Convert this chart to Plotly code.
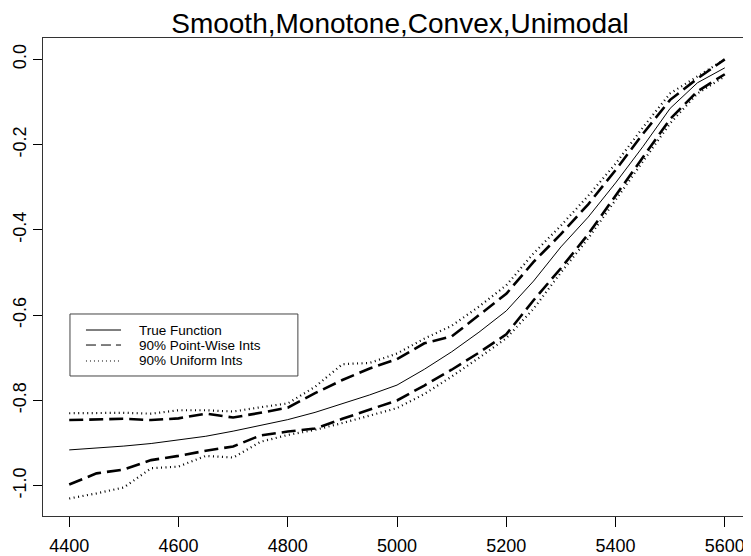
import plotly.graph_objects as go

x = [4400, 4450, 4500, 4550, 4600, 4650, 4700, 4750, 4800, 4850, 4900, 4950, 5000,
     5050, 5100, 5150, 5200, 5250, 5300, 5350, 5400, 5450, 5500, 5550, 5600]

true_fn = [-0.916, -0.912, -0.907, -0.901, -0.893, -0.884, -0.872, -0.859, -0.845,
           -0.828, -0.807, -0.787, -0.764, -0.727, -0.686, -0.640, -0.590, -0.520,
           -0.440, -0.370, -0.290, -0.205, -0.115, -0.055, -0.020]

pw_upper = [-0.846, -0.845, -0.843, -0.846, -0.842, -0.831, -0.840, -0.829, -0.817,
            -0.783, -0.752, -0.725, -0.703, -0.666, -0.650, -0.600, -0.550, -0.475,
            -0.410, -0.340, -0.260, -0.175, -0.095, -0.045, 0.000]

pw_lower = [-0.997, -0.971, -0.962, -0.940, -0.930, -0.918, -0.908, -0.882, -0.873,
            -0.866, -0.843, -0.822, -0.800, -0.765, -0.728, -0.688, -0.645, -0.565,
            -0.490, -0.410, -0.320, -0.230, -0.140, -0.075, -0.035]

uni_upper = [-0.830, -0.830, -0.829, -0.831, -0.823, -0.823, -0.826, -0.816, -0.807,
             -0.768, -0.715, -0.712, -0.690, -0.655, -0.625, -0.580, -0.530, -0.455,
             -0.390, -0.320, -0.245, -0.160, -0.080, -0.040, 0.000]

uni_lower = [-1.030, -1.018, -1.004, -0.959, -0.955, -0.930, -0.934, -0.897, -0.881,
             -0.869, -0.853, -0.835, -0.818, -0.785, -0.744, -0.700, -0.654, -0.585,
             -0.500, -0.420, -0.330, -0.240, -0.150, -0.080, -0.040]

x_ticks = [4400, 4600, 4800, 5000, 5200, 5400, 5600]
y_ticks = [0.0, -0.2, -0.4, -0.6, -0.8, -1.0]
y_tick_text = ["0.0", "-0.2", "-0.4", "-0.6", "-0.8", "-1.0"]

names = ["True Function", "90% Point-Wise Ints", "90% Uniform Ints"]

FONT = "Liberation Sans, Arial, sans-serif"
dash_style = "14px,6px"
dot_style = "1px,3.5px"

fig = go.Figure()

fig.add_trace(go.Scatter(x=x, y=true_fn, mode="lines", showlegend=False,
                         line=dict(color="black", width=1)))
for ys in (pw_upper, pw_lower):
    fig.add_trace(go.Scatter(x=x, y=ys, mode="lines", showlegend=False,
                             line=dict(color="black", width=2.6, dash=dash_style)))
for ys in (uni_upper, uni_lower):
    fig.add_trace(go.Scatter(x=x, y=ys, mode="lines", showlegend=False,
                             line=dict(color="black", width=2.2, dash=dot_style)))

# legend drawn like R's legend(): box, short line samples and labels
fig.add_shape(type="rect", xref="paper", yref="paper",
              x0=0.0381, x1=0.360, y0=0.2929, y1=0.4226,
              line=dict(color="#444", width=1))
legend_dash = ["solid", "10px,5px", "1px,3px"]
legend_y = [0.3891, 0.3577, 0.3243]
for nm, d, ly in zip(names, legend_dash, legend_y):
    fig.add_shape(type="line", xref="paper", yref="paper",
                  x0=0.0607, x1=0.1102, y0=ly, y1=ly,
                  line=dict(color="black", width=1, dash=d))
    fig.add_annotation(text=nm, xref="paper", yref="paper", x=0.1328, y=ly,
                       xanchor="left", yanchor="middle", showarrow=False,
                       font=dict(size=13.5, family=FONT, color="black"))

# page body has an 8px margin, so the figure is 8px smaller than the window
fig.update_layout(
    width=743, height=548,
    margin=dict(l=35, r=0, t=30, b=40),
    paper_bgcolor="white", plot_bgcolor="white",
    font=dict(family=FONT, color="black"),
    title=dict(text="Smooth,Monotone,Convex,Unimodal", x=0.5276, xanchor="center",
               yref="container", y=0.9715, yanchor="middle",
               font=dict(size=28, family=FONT, color="black")),
    showlegend=False,
)

fig.update_xaxes(range=[4352, 5648], tickvals=x_ticks, ticks="outside", ticklen=10,
                 tickcolor="black", showgrid=False, zeroline=False,
                 showline=True, linecolor="#333", linewidth=1.2, mirror=True,
                 ticklabelstandoff=3,
                 tickfont=dict(size=18, family=FONT))
fig.update_yaxes(range=[-1.071, 0.05], tickvals=y_ticks, ticktext=y_tick_text,
                 ticks="outside", ticklen=9, tickcolor="black", showgrid=False,
                 zeroline=False, showline=True, linecolor="#333", linewidth=1.2,
                 mirror=False, tickangle=-90, tickfont=dict(size=18, family=FONT))

fig.write_html("out.html")
